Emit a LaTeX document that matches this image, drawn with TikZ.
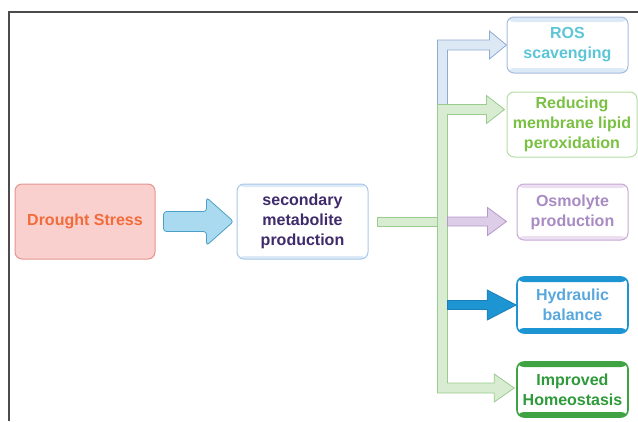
\documentclass[tikz,border=0pt]{standalone}
\usepackage{fontspec}
\setsansfont{Liberation Sans}
\usetikzlibrary{calc}

\definecolor{dsfill}{HTML}{F9D0CE}
\definecolor{dsline}{HTML}{E39590}
\definecolor{dstext}{HTML}{F26B3A}
\definecolor{bafill}{HTML}{A9DAF0}
\definecolor{baline}{HTML}{4C9FC6}
\definecolor{secline}{HTML}{A9C7E8}
\definecolor{secband}{HTML}{DCE9F6}
\definecolor{sectext}{HTML}{3F2A6B}
\definecolor{rosline}{HTML}{A5BDDD}
\definecolor{rosfill}{HTML}{DDE8F5}
\definecolor{rosarrow}{HTML}{8FAAD3}
\definecolor{rostext}{HTML}{5CC6D6}
\definecolor{redline}{HTML}{B5DDA5}
\definecolor{redtext}{HTML}{7AC143}
\definecolor{grfill}{HTML}{D7ECD1}
\definecolor{grline}{HTML}{9CCB8F}
\definecolor{osmline}{HTML}{C7A9D6}
\definecolor{osmband}{HTML}{ECDFF2}
\definecolor{osmfill}{HTML}{DDCDE7}
\definecolor{osmarrow}{HTML}{B698CC}
\definecolor{osmtext}{HTML}{A98BC4}
\definecolor{hydline}{HTML}{1E95D3}
\definecolor{hydtext}{HTML}{5AA7DE}
\definecolor{hydarrow}{HTML}{1A7FB8}
\definecolor{impline}{HTML}{3FA344}
\definecolor{imptext}{HTML}{2E9A3A}

\begin{document}
\begin{tikzpicture}[
    x=1pt, y=-1pt,
    box/.style={rounded corners=7pt, align=center, inner sep=2pt,
        font=\sffamily\bfseries\fontsize{16}{20}\selectfont},
    band/.style 2 args={path picture={
        \fill[#1] (path picture bounding box.north west) rectangle ([yshift=-#2]path picture bounding box.north east);
        \fill[#1] (path picture bounding box.south west) rectangle ([yshift=#2]path picture bounding box.south east);}},
    blk/.style 2 args={fill=#1, draw=#2, line width=0.8pt, line join=miter}
]

\useasboundingbox (0,0) rectangle (638,421);

% cadre
\draw[black!70, line width=1.6pt] (9,421) -- (9,12) -- (638,12);

% ==========================
% BOITES
% ==========================
\node[box, draw=dsline, fill=dsfill, line width=1pt, text=dstext,
    minimum width=140, minimum height=75] (ds) at (85,221.5) {Drought Stress};
\node[box, draw=secline, fill=white, band={secband}{3pt}, line width=1pt, text=sectext,
    minimum width=131, minimum height=75] (sec) at (302.5,221.5) {secondary\\metabolite\\production};

\node[box, draw=rosline, fill=white, band={secband}{5pt}, line width=1pt, text=rostext,
    minimum width=121, minimum height=56] (ros) at (567.5,45) {ROS\\scavenging};
\node[box, draw=redline, fill=white, line width=1pt, text=redtext,
    minimum width=130, minimum height=65] (red) at (572,124.5) {Reducing\\membrane lipid\\peroxidation};
\node[box, draw=osmline, fill=white, band={osmband}{4pt}, line width=1pt, text=osmtext,
    minimum width=111, minimum height=56] (osm) at (572.5,212) {Osmolyte\\production};
\node[box, draw=hydline, fill=white, band={hydline}{5pt}, line width=1.6pt, text=hydtext,
    minimum width=111, minimum height=56] (hyd) at (572.5,305) {Hydraulic\\balance};
\node[box, draw=impline, fill=white, band={impline}{5pt}, line width=1.6pt, text=imptext,
    minimum width=111, minimum height=55] (imp) at (572.5,389.5) {Improved\\Homeostasis};

% ==========================
% POINTES ET TRONC
% ==========================
\coordinate (trunk) at (442.5,0);
\coordinate (t-ros) at (ros.west);
\coordinate (t-red) at ($(red.west)+(-2,-15)$);
\coordinate (t-osm) at ($(osm.west |- sec.east)+(-10,0)$);
\coordinate (t-hyd) at (hyd.west);
\coordinate (t-imp) at ($(imp.west)+(-2,-1.5)$);

% fleche principale
\draw[blk={bafill}{baline}, rounded corners=3pt]
    ($(ds.east)+(8,-10)$) -- ($(sec.west)+(-30,-10)$) -- ++(0,-14)
    -- ($(sec.west)+(-3,0)$) -- ($(sec.west)+(-30,24)$) -- ++(0,-14)
    -- ($(ds.east)+(8,10)$) -- cycle;

% branche ROS
\draw[blk={rosfill}{rosarrow}]
    (t-ros) -- ++(-17,-14) -- ++(0,9) -| ($(trunk |- t-red)+(-5,-5)$)
    -- ++(10,0) |- ($(t-ros)+(-17,5)$) -- ++(0,9) -- cycle;

% branches vertes
\draw[blk={grfill}{grline}]
    (t-red) -- ++(-18,-14) -- ++(0,9) -| ($(trunk |- t-imp)+(-5,5)$)
    -- ($(t-imp)+(-20,5)$) -- ++(0,9) -- (t-imp) -- ++(-20,-14) -- ++(0,9)
    -| ($(trunk |- t-red)+(5,5)$) -- ($(t-red)+(-18,5)$) -- ++(0,9) -- cycle;
\draw[blk={grfill}{grline}]
    ($(sec.east)+(9,-4.5)$) rectangle ($(trunk |- sec.east)+(-5,4.5)$);

% osmolytes
\draw[blk={osmfill}{osmarrow}]
    (t-osm) -- ++(-19,-14) -- ++(0,9.5) -- ($(trunk |- t-osm)+(5,-4.5)$)
    -- ++(0,9) -- ($(t-osm)+(-19,4.5)$) -- ++(0,9.5) -- cycle;

% hydraulique
\draw[blk={hydline}{hydarrow}]
    (t-hyd) -- ++(-29,-15) -- ++(0,10.5) -- ($(trunk |- t-hyd)+(5,-4.5)$)
    -- ++(0,9) -- ($(t-hyd)+(-29,4.5)$) -- ++(0,10.5) -- cycle;

\end{tikzpicture}
\end{document}
